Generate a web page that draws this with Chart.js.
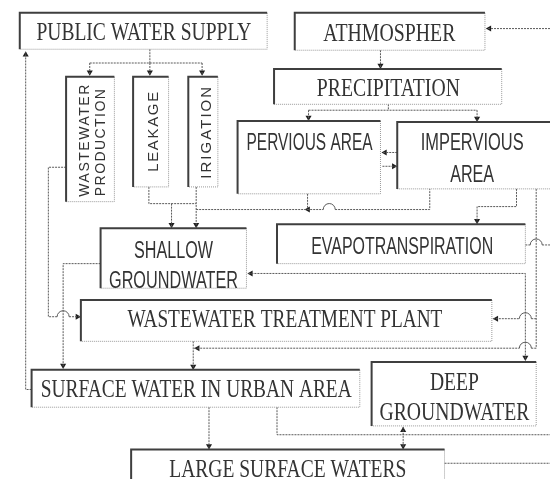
<!DOCTYPE html>
<html>
<head>
<meta charset="utf-8">
<script src="https://cdn.jsdelivr.net/npm/chart.js@4/dist/chart.umd.min.js"></script>
<style>
  html, body { margin: 0; padding: 0; background: #fff; }
  canvas { display: block; }
</style>
</head>
<body>
<canvas id="flow" width="554" height="483"></canvas>
<script>
// diagram nodes, in the chart's own units (x 0..554, y 0..483 top down)
const nodeNames = ['PUBLIC WATER SUPPLY', 'ATHMOSPHER', 'PRECIPITATION', 'WASTEWATER PRODUCTION',
  'LEAKAGE', 'IRIGATION', 'PERVIOUS AREA', 'IMPERVIOUS AREA', 'SHALLOW GROUNDWATER',
  'EVAPOTRANSPIRATION', 'WASTEWATER TREATMENT PLANT', 'SURFACE WATER IN URBAN AREA',
  'DEEP GROUNDWATER', 'LARGE SURFACE WATERS'];
const nodeLeft   = [16, 295, 274, 63, 131, 187, 237, 399, 98, 277, 78, 28, 373, 129];
const nodeTop    = [9, 9, 66, 74, 74, 74, 119, 120, 228, 224, 301, 372, 364, 453];
const nodeRight  = [267, 488, 505, 112, 167, 217, 382, 557, 246, 529, 495, 361, 540, 447];
const nodeBottom = [46, 47, 102, 201, 186, 186, 193, 188, 289, 264, 343, 410, 429, 487];

// connector polylines
const links = [
  [[148, 46], [148, 60]], [[87, 60], [201, 60]],
  [[87, 60], [87, 72]], [[148, 60], [148, 72]], [[201, 60], [201, 72]],
  [[28, 392], [22, 392], [22, 49]],
  [[63, 166], [45, 166], [45, 318], [54, 318]], [[66, 318], [77, 318]],
  [[98, 264], [60, 264], [60, 370]],
  [[147, 186], [147, 203], [195, 203]], [[195, 186], [195, 227]], [[170, 203], [170, 227]],
  [[195, 209], [324, 209]], [[308, 193], [308, 209]], [[336, 209], [432, 209], [432, 188]],
  [[520, 188], [520, 206], [480, 206], [480, 223]],
  [[540, 188], [540, 350]],
  [[529, 245], [534, 245]], [[546, 245], [554, 245]],
  [[248, 274], [529, 274], [529, 362]],
  [[496, 320], [523, 320]], [[535, 320], [540, 320]],
  [[193, 350], [523, 350]], [[535, 350], [540, 350]],
  [[192, 343], [192, 371]],
  [[208, 410], [208, 452]],
  [[277, 410], [277, 438], [554, 438]],
  [[405, 430], [405, 452]],
  [[447, 467], [554, 467]],
  [[554, 25], [489, 25]],
  [[382, 47], [382, 65]],
  [[390, 102], [390, 108]], [[309, 108], [480, 108]],
  [[309, 108], [309, 118]], [[480, 108], [480, 119]],
  [[399, 151], [384, 151]], [[384, 165], [398, 165]]
];

// line hops (crossings)
const hopX = [60, 330, 540, 529, 529];
const hopY = [318, 209, 245, 320, 350];

// arrow heads: tip position and direction
const arrowX   = [87, 148, 201, 22, 78, 60, 170, 195, 480, 247, 529, 496, 193, 192, 208, 405, 405, 489, 382, 309, 480, 383, 399, 305];
const arrowY   = [73, 73, 73, 48, 318, 371, 228, 228, 224, 274, 363, 320, 350, 372, 453, 430, 453, 25, 66, 119, 120, 151, 165, 209];
const arrowDir = ['down', 'down', 'down', 'up', 'right', 'down', 'down', 'down', 'down', 'left', 'down', 'left', 'left',
  'down', 'down', 'up', 'down', 'left', 'down', 'down', 'down', 'left', 'right', 'left'];

// label placement (text rows per node)
const SERIF = '"Liberation Serif", "Times New Roman", serif';
const SANS = '"Liberation Sans", Arial, sans-serif';
const labelRows = [
  { node: 0, font: SERIF, size: 26, rows: [['PUBLIC WATER SUPPLY', 142, 37, 215]] },
  { node: 1, font: SERIF, size: 26, rows: [['ATHMOSPHER', 391, 38, 132]] },
  { node: 2, font: SERIF, size: 26, rows: [['PRECIPITATION', 390, 94, 143]] },
  { node: 3, font: SANS, size: 14, rot: true, rows: [['WASTEWATER', 86, 139, 112], ['PRODUCTION', 102, 141, 107]] },
  { node: 4, font: SANS, size: 15, rot: true, rows: [['LEAKAGE', 156, 130, 80]] },
  { node: 5, font: SANS, size: 15, rot: true, rows: [['IRIGATION', 210, 131, 92]] },
  { node: 6, font: SANS, size: 23, rows: [['PERVIOUS AREA', 310, 148, 126]] },
  { node: 7, font: SANS, size: 23, rows: [['IMPERVIOUS', 475, 148, 103], ['AREA', 475, 181, 44]] },
  { node: 8, font: SANS, size: 23, rows: [['SHALLOW', 172, 258, 79], ['GROUNDWATER', 172, 289, 129]] },
  { node: 9, font: SANS, size: 23, rows: [['EVAPOTRANSPIRATION', 404, 254, 182]] },
  { node: 10, font: SERIF, size: 25, rows: [['WASTEWATER TREATMENT PLANT', 285, 328, 315]] },
  { node: 11, font: SERIF, size: 26, rows: [['SURFACE WATER IN URBAN AREA', 195, 400, 311]] },
  { node: 12, font: SERIF, size: 25, rows: [['DEEP', 457, 393, 49], ['GROUNDWATER', 457, 423, 150]] },
  { node: 13, font: SERIF, size: 26, rows: [['LARGE SURFACE WATERS', 288, 481, 237]] }
];

const pt = (p) => ({ x: p[0], y: p[1] });
const datasets = [];

nodeNames.forEach((name, i) => {
  const l = nodeLeft[i], t = nodeTop[i], r = nodeRight[i], b = nodeBottom[i];
  datasets.push({
    label: name, showLine: true, pointRadius: 0,
    borderColor: '#3f3f3f', borderWidth: 2,
    data: [{ x: l, y: b }, { x: l, y: t }, { x: r, y: t }]
  });
  datasets.push({
    label: name + ' edge', showLine: true, pointRadius: 0,
    borderColor: '#9a9a9a', borderWidth: 1, borderDash: [1, 1],
    data: [{ x: r, y: t }, { x: r, y: b }, { x: l, y: b }]
  });
});

links.forEach((line, i) => {
  datasets.push({
    label: 'link ' + i, showLine: true, pointRadius: 0,
    borderColor: '#5a5a5a', borderWidth: 1, borderDash: [2, 1],
    data: line.map(pt)
  });
});

const dirAngle = { up: 0, right: 90, down: 180, left: 270 };
const dirVec = { up: [0, -1], right: [1, 0], down: [0, 1], left: [-1, 0] };
const headR = 3.5;
datasets.push({
  label: 'arrows', showLine: false,
  pointStyle: 'triangle', pointRadius: headR, borderWidth: 0,
  backgroundColor: '#1e1e1e',
  pointRotation: arrowDir.map(d => dirAngle[d]),
  data: arrowX.map((x, i) => {
    const v = dirVec[arrowDir[i]];
    return { x: x - v[0] * headR, y: arrowY[i] - v[1] * headR };
  })
});

function fitText(ctx, text, cx, y, width) {
  const w0 = ctx.measureText(text).width;
  ctx.textAlign = 'left';
  if (w0 >= width) {
    ctx.fillText(text, cx - width / 2, y, width);
  } else {
    ctx.letterSpacing = ((width - w0) / Math.max(1, text.length - 1)) + 'px';
    ctx.fillText(text, cx - width / 2, y);
    ctx.letterSpacing = '0px';
  }
}

const diagramText = {
  id: 'diagramText',
  afterDatasetsDraw(chart) {
    const ctx = chart.ctx;
    const xs = chart.scales.x, ys = chart.scales.y;
    ctx.save();
    // hops
    ctx.strokeStyle = '#5a5a5a';
    ctx.lineWidth = 1;
    hopX.forEach((hx, i) => {
      const px = xs.getPixelForValue(hx), py = ys.getPixelForValue(hopY[i]);
      ctx.beginPath();
      ctx.arc(px, py, 6, Math.PI, 0);
      ctx.stroke();
    });
    // labels
    ctx.fillStyle = '#333';
    ctx.textBaseline = 'alphabetic';
    labelRows.forEach(lab => {
      ctx.font = lab.size + 'px ' + lab.font;
      lab.rows.forEach(([text, x, y, w]) => {
        const px = xs.getPixelForValue(x), py = ys.getPixelForValue(y);
        if (lab.rot) {
          ctx.save();
          ctx.translate(px, py);
          ctx.rotate(-Math.PI / 2);
          fitText(ctx, text, 0, 0, w);
          ctx.restore();
        } else {
          fitText(ctx, text, px, py, w);
        }
      });
    });
    ctx.restore();
  }
};

new Chart(document.getElementById('flow'), {
  type: 'scatter',
  data: { datasets },
  options: {
    responsive: false,
    animation: false,
    events: [],
    layout: { padding: 0 },
    elements: { line: { tension: 0 } },
    plugins: { legend: { display: false }, tooltip: { enabled: false } },
    scales: {
      x: { type: 'linear', min: 0, max: 554, display: false },
      y: { type: 'linear', min: 0, max: 483, reverse: true, display: false }
    }
  },
  plugins: [diagramText]
});
</script>
</body>
</html>
